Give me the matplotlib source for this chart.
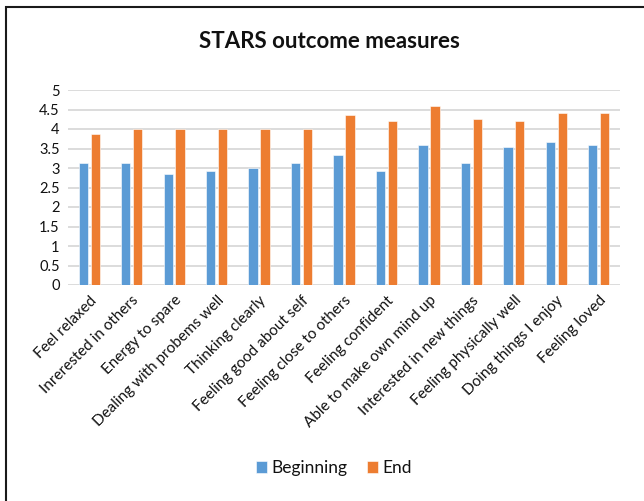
import matplotlib
matplotlib.use("Agg")
import matplotlib.pyplot as plt
import numpy as np
from matplotlib.patches import Rectangle

categories = ['Feel relaxed', 'Inrerested in others', 'Energy to spare',
              'Dealing with probems well', 'Thinking clearly',
              'Feeling good about self', 'Feeling close to others',
              'Feeling confident', 'Able to make own mind up',
              'Interested in new things', 'Feeling physically well',
              'Doing things I enjoy', 'Feeling loved']
beginning = [3.12, 3.12, 2.85, 2.93, 3.0, 3.12, 3.33, 2.93, 3.6, 3.12, 3.53, 3.67, 3.6]
end = [3.86, 4.0, 4.0, 4.0, 4.0, 4.0, 4.36, 4.2, 4.6, 4.26, 4.2, 4.4, 4.4]
yticks = [0, 0.5, 1, 1.5, 2, 2.5, 3, 3.5, 4, 4.5, 5]
ytick_labels = ['0', '0.5', '1', '1.5', '2', '2.5', '3', '3.5', '4', '4.5', '5']

plt.rcParams['font.family'] = ['Lato', 'DejaVu Sans']
plt.rcParams['text.color'] = '#111111'

fig = plt.figure(figsize=(6.44, 5.01), dpi=100)
fig.patch.set_facecolor('white')
# chart frame like the Excel chart border
fig.patches.append(Rectangle((6 / 644, -0.1), 1.1, (501 - 7) / 501 + 0.1,
                             transform=fig.transFigure, fill=False,
                             edgecolor='#1a1a1a', linewidth=1.5))

ax = fig.add_axes([68 / 644, (501 - 285) / 501, (620 - 68) / 644, 195 / 501])
x = np.arange(len(categories))
w = 0.22
ax.bar(x - 0.14, beginning, w, color='#5B9BD5', edgecolor='white', linewidth=0.4,
       label='Beginning', zorder=3)
ax.bar(x + 0.14, end, w, color='#ED7D31', edgecolor='white', linewidth=0.4,
       label='End', zorder=3)

ax.set_xlim(-0.5, len(categories) - 0.5)
ax.set_ylim(0, 5)
ax.set_yticks(yticks)
ax.set_yticklabels(ytick_labels, fontsize=10.5, color='#111111')
ax.set_xticks(x)
ax.set_xticklabels(categories, rotation=45, ha='right', rotation_mode='anchor',
                   fontsize=11, color='#111111')
ax.tick_params(length=0, pad=6)
ax.grid(axis='y', color='#D9D9D9', linewidth=1.3, zorder=0)
for s in ax.spines.values():
    s.set_visible(False)

fig.text(329 / 644, 1 - 42 / 501, 'STARS outcome measures', ha='center',
         va='center', fontsize=16, fontweight='bold')

fig.legend(loc='center', bbox_to_anchor=(334 / 644, 1 - 468 / 501), ncol=2,
           frameon=False, fontsize=12.5, handlelength=0.65, handleheight=0.65,
           handletextpad=0.25, columnspacing=1.1)

fig.savefig('out.png', dpi=100)
